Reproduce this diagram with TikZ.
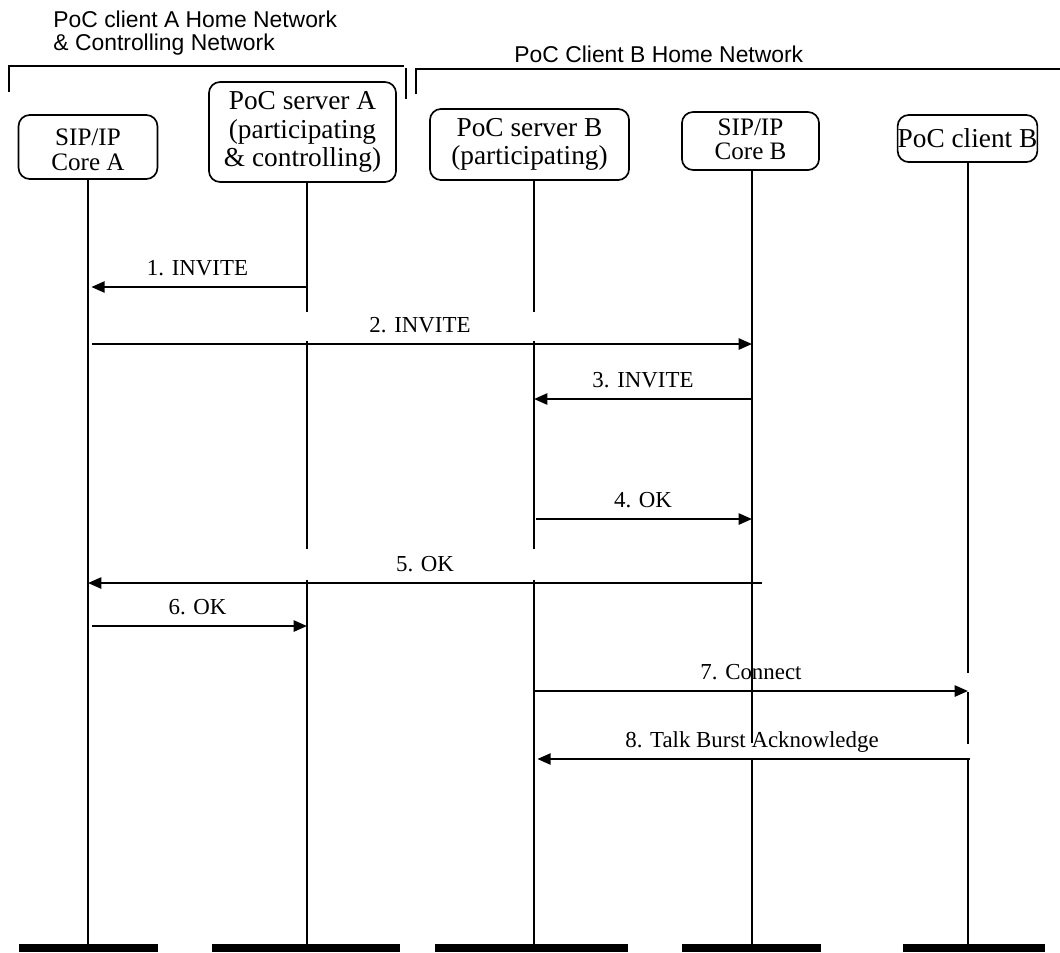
\documentclass[tikz,border=0pt]{standalone}
\usepackage{fontspec}
\setmainfont{Liberation Serif}
\newfontfamily\netfont{Liberation Sans}
\usetikzlibrary{arrows.meta,positioning,calc}
\tikzset{
  entity/.style={draw=black, line width=0.75pt, rounded corners=5pt, align=center, inner sep=0pt},
  corefont/.style={font=\fontsize{11.3}{10.8}\selectfont},
  srvfont/.style={font=\fontsize{12.3}{12.8}\selectfont},
  life/.style={line width=0.8pt},
  msg/.style={-{Triangle[length=6pt,width=5pt]}, line width=1pt},
  msglabel/.style={midway, above=4.5pt, inner sep=0pt, text depth=0pt, font=\fontsize{10.3}{12}\selectfont},
  bar/.style={fill=black, inner sep=0pt, minimum height=3.6pt},
  net/.style={line width=0.7pt},
  nettext/.style={anchor=base west, inner sep=0pt, font=\netfont\fontsize{10.3}{12}\selectfont},
}

\begin{document}
\begin{tikzpicture}[x=0.45pt,y=-0.45pt]
  \useasboundingbox (0,0) rectangle (1060,952);

  % network headers
  \node[nettext] (netA) at (53,27) {PoC client A Home Network};
  \node[nettext] (netA2) at (53,50) {\& Controlling Network};
  \node[nettext] (netB) at (514,62) {PoC Client B Home Network};
  \draw[net] (9,92) -- (9,66) -- (404,66);
  \draw[net] (406,68) -- (406,99);
  \draw[net] (416,94) -- (416,69) -- (1060,69);

  % entities
  \node[entity, corefont, minimum width=62.5pt, minimum height=28.8pt] (coreA) at (88,147) {\rule{0pt}{10pt}SIP/IP\\Core A};
  \node[entity, srvfont, minimum width=84.2pt, minimum height=45pt] (serverA) at (302.5,132) {PoC server A\\(participating\\\& controlling)};
  \node[entity, srvfont, minimum width=89.6pt, minimum height=32pt] (serverB) at (529.5,144.5) {PoC server B\\(participating)};
  \node[entity, corefont, minimum width=61.7pt, minimum height=26.1pt] (coreB) at (750.5,141) {SIP/IP\\Core B\rule[-2pt]{0pt}{0pt}};
  \node[entity, srvfont, minimum width=62.6pt, minimum height=21.2pt] (clientB) at (967.5,138.5) {PoC client B};

  % end bars
  \node[bar, minimum width=62.6pt] (barCA) at (88.5,948) {};
  \node[bar, minimum width=84.6pt] (barSA) at (306,948) {};
  \node[bar, minimum width=86.9pt] (barSB) at (531.5,948) {};
  \node[bar, minimum width=62.6pt] (barCB) at (751.5,948) {};
  \node[bar, minimum width=63.9pt] (barCL) at (974,948) {};

  % lifelines
  \coordinate (xCA) at (88,0);
  \coordinate (xSA) at (307,0);
  \coordinate (xSB) at (534,0);
  \coordinate (xCB) at (752,0);
  \coordinate (xCL) at (968,0);
  \draw[life] (xCA |- coreA.south) -- (xCA |- barCA.north);
  \draw[life] (xSA |- serverA.south) -- (xSA |- 0,312);
  \draw[life] (xSA |- 0,341) -- (xSA |- 0,549);
  \draw[life] (xSA |- 0,580) -- (xSA |- barSA.north);
  \draw[life] (xSB |- serverB.south) -- (xSB |- 0,312);
  \draw[life] (xSB |- 0,341) -- (xSB |- 0,549);
  \draw[life] (xSB |- 0,580) -- (xSB |- barSB.north);
  \draw[life] (xCB |- coreB.south) -- (xCB |- 0,743);
  \draw[life] (xCB |- 0,760) -- (xCB |- barCB.north);
  \draw[life] (xCL |- clientB.south) -- (xCL |- 0,673);
  \draw[life] (xCL |- 0,692) -- (xCL |- 0,744);
  \draw[life] (xCL |- 0,760) -- (xCL |- barCL.north);

  % messages
  \draw[msg, shorten >=1.5pt] (xSA |- 0,287) -- (xCA |- 0,287) node[msglabel] {1. INVITE};
  \draw[msg, shorten <=2pt] (xCA |- 0,344) -- (xCB |- 0,344) node[msglabel] {2. INVITE};
  \draw[msg] (xCB |- 0,399) -- (xSB |- 0,399) node[msglabel] {3. INVITE};
  \draw[msg, shorten <=1pt] (xSB |- 0,519) -- (xCB |- 0,519) node[msglabel] {4. OK};
  \draw[msg] ($(xCB |- 0,583)+(10,0)$) -- (xCA |- 0,583) node[msglabel] {5. OK};
  \draw[msg, shorten <=2pt] (xCA |- 0,626) -- (xSA |- 0,626) node[msglabel] {6. OK};
  \draw[msg] (xSB |- 0,691) -- (xCL |- 0,691) node[msglabel] {7. Connect};
  \draw[msg, shorten >=1.5pt] ($(xCL |- 0,759)+(2,0)$) -- (xSB |- 0,759) node[msglabel] {8. Talk Burst Acknowledge};
\end{tikzpicture}
\end{document}
